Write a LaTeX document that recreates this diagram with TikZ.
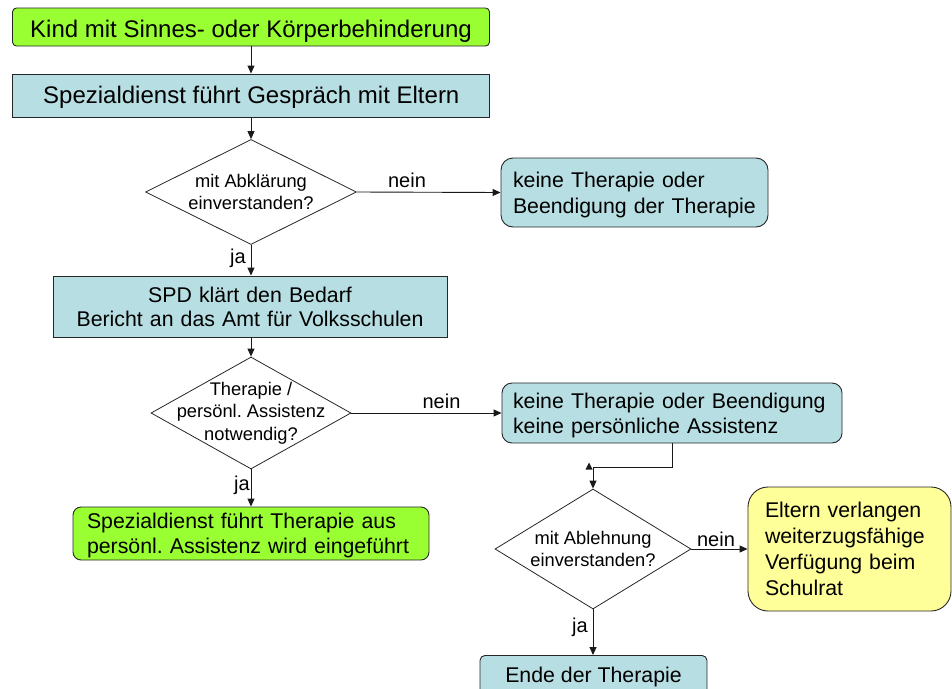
\documentclass[tikz,border=0pt]{standalone}
\usepackage{fontspec}
\setmainfont{Liberation Sans}
\usetikzlibrary{shapes.geometric,arrows.meta}
\definecolor{lgreen}{RGB}{153,255,51}
\definecolor{lblue}{RGB}{183,222,226}
\definecolor{lyellow}{RGB}{255,255,153}
\newcommand\fsz[2]{\fontsize{#1}{#2}\selectfont}
\frenchspacing
\tikzset{
  base/.style={draw=black!85, line width=0.9pt, inner sep=0pt, font=\fsz{21.3}{25}},
  greenbox/.style={base, fill=lgreen},
  bluebox/.style={base, fill=lblue},
  yellowbox/.style={base, fill=lyellow},
  dia/.style={draw=black!85, line width=0.8pt, shape=diamond, inner sep=0pt, fill=white},
  diatext/.style={align=center, inner sep=0pt, font=\fsz{18.3}{22.5}},
  conn/.style={line width=0.9pt, draw=black!90},
  arr/.style={conn, -{Triangle[length=8pt,width=7pt]}},
  lbl/.style={font=\fsz{20}{24}, anchor=base, inner sep=0pt}
}
\begin{document}
\begin{tikzpicture}[x=1pt,y=-1pt]
\useasboundingbox (0,0) rectangle (952,688);
% nodes
\node[greenbox, rounded corners=4pt, minimum width=477pt, minimum height=38pt, font=\fsz{24}{28}, text height=20.6pt, text depth=0pt] (n1) at (251,27) {Kind mit Sinnes- oder Körperbehinderung};
\node[bluebox, minimum width=477pt, minimum height=43pt, font=\fsz{24}{28}, text height=15.6pt, text depth=0pt] (n2) at (251.3,95.5) {Spezialdienst führt Gespräch mit Eltern};
\node[dia, minimum width=211pt, minimum height=105pt] (d1) at (251,192) {};
\node[diatext] (d1t) at (d1.center) {mit Abklärung\\einverstanden?};
\node[bluebox, rounded corners=12pt, minimum width=267pt, minimum height=69pt, text width=243pt, align=left, font=\fsz{21.3}{26}, text height=15pt, text depth=25.4pt] (k1) at (634.5,192.5) {keine Therapie oder\\Beendigung der Therapie};
\node[bluebox, minimum width=394pt, minimum height=61pt, text width=380pt, align=center, font=\fsz{21.3}{24}, text height=15pt, text depth=22.6pt] (b3) at (250,306.5) {SPD klärt den Bedarf\\Bericht an das Amt für Volksschulen};
\node[dia, minimum width=200pt, minimum height=112pt] (d2) at (251,413) {};
\node[diatext] (d2t) at (d2.center) {Therapie /\\persönl. Assistenz\\notwendig?};
\node[bluebox, rounded corners=10pt, minimum width=340pt, minimum height=60pt, text width=318pt, align=left, text height=15pt, text depth=24.4pt] (k2) at (672,413) {keine Therapie oder Beendigung\\keine persönliche Assistenz};
\node[greenbox, rounded corners=8pt, minimum width=356pt, minimum height=53pt, text width=328pt, align=left, text height=15pt, text depth=25.4pt] (g2) at (251,533.5) {Spezialdienst führt Therapie aus\\persönl. Assistenz wird eingeführt};
\node[dia, minimum width=196pt, minimum height=120pt] (d3) at (593,549) {};
\node[diatext] (d3t) at (d3.center) {mit Ablehnung\\einverstanden?};
\node[yellowbox, rounded corners=20pt, minimum width=203pt, minimum height=124pt, text width=169pt, align=left, font=\fsz{21.3}{25.9}, text height=15pt, text depth=78.4pt] (y1) at (849.5,549) {Eltern verlangen\\weiterzugsfähige\\Verfügung beim\\Schulrat};
\node[bluebox, rounded corners=5pt, minimum width=227pt, minimum height=50pt, anchor=north] (e1) at (593.5,655) {};
\node[font=\fsz{21.3}{25}, inner sep=0pt, anchor=base] (e1t) at (593.5,682) {Ende der Therapie};
\coordinate (c1) at (593,467);
% connectors
\draw[arr] (n1.south) -- (n1.south |- n2.north);
\draw[arr] (n2.south -| d1.north) -- (d1.north);
\draw[arr] (d1.east) -- (k1.west);
\draw[arr] (d1.south) -- (d1.south |- b3.north);
\draw[arr] (b3.south -| d2.north) -- (d2.north);
\draw[arr] (d2.east) -- (k2.west);
\draw[arr] (d2.south) -- (d2.south |- g2.north);
\draw[conn] (k2.south) |- (c1);
\fill[black!90] (589,462.5) -- (585.5,469.5) -- (592.5,469.5) -- cycle;
\draw[arr] (c1) -- (d3.north);
\draw[arr] (d3.east) -- (d3.east -| y1.west);
\draw[arr] (d3.south) -- (d3.south |- e1.north);
% labels
\node[lbl] (l1) at (407,187) {nein};
\node[lbl] (l2) at (238,263) {ja};
\node[lbl] (l3) at (441.5,408) {nein};
\node[lbl] (l4) at (242,490) {ja};
\node[lbl] (l5) at (716,546) {nein};
\node[lbl] (l6) at (580,632) {ja};
\end{tikzpicture}
\end{document}
